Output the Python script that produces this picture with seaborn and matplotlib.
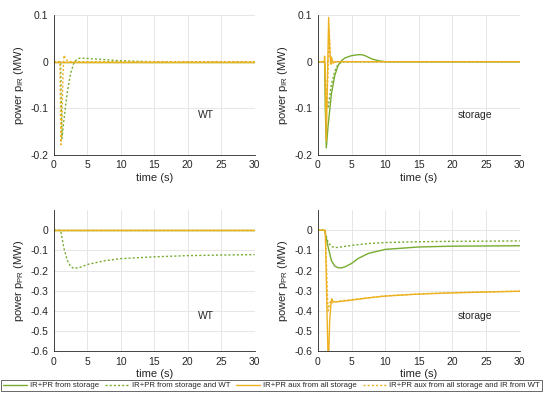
import numpy as np
import pandas as pd
import matplotlib
matplotlib.use("Agg")
import matplotlib.pyplot as plt
import seaborn as sns
from matplotlib.lines import Line2D

sns.set_theme(style="whitegrid")
plt.rcParams['font.family'] = ['Liberation Sans', 'DejaVu Sans']

GREEN = '#77AC30'
ORANGE = '#EDB120'

series_names = ["IR+PR from storage", "IR+PR from storage and WT",
                "IR+PR aux from all storage", "IR+PR aux from all storage and IR from WT"]

# ---- top-left: IR, WT ----
tl_gs_t = [0, 30]
tl_gs_v = [0, 0]
tl_gd_t = [0, 1.0, 1.2, 1.5, 2.0, 2.5, 3.0, 3.5, 4.0, 5, 6, 8, 10, 12, 15, 30]
tl_gd_v = [0, 0, -0.165, -0.125, -0.065, -0.025, -0.002, 0.006, 0.008, 0.007, 0.006, 0.004, 0.002, 0.001, 0, 0]
tl_os_t = [0, 30]
tl_os_v = [0, 0]
tl_od_t = [0, 0.9, 1.05, 1.2, 1.35, 1.5, 1.7, 2.0, 2.4, 30]
tl_od_v = [0, 0, -0.178, -0.12, -0.03, 0.014, 0.008, 0.002, 0, 0]

# ---- top-right: IR, storage ----
tr_gs_t = [0, 1.0, 1.1, 1.25, 1.5, 2, 2.5, 3, 3.5, 4, 5, 6, 6.5, 7, 8, 9, 10, 30]
tr_gs_v = [0, 0, -0.1, -0.185, -0.14, -0.07, -0.03, -0.008, 0.002, 0.008, 0.013, 0.015, 0.015, 0.013, 0.006, 0.002, 0, 0]
tr_gd_t = [0, 1.0, 1.2, 1.5, 2, 2.5, 3, 3.5, 4, 30]
tr_gd_v = [0, 0, -0.07, -0.1, -0.05, -0.02, -0.006, -0.001, 0, 0]
tr_os_t = [0, 0.95, 1.0, 1.1, 1.25, 1.4, 1.6, 1.75, 1.9, 2.0, 2.15, 2.3, 2.6, 30]
tr_os_v = [0, 0, 0.012, -0.05, -0.17, -0.05, 0.095, 0.03, -0.005, 0.01, 0.003, -0.003, 0, 0]
tr_od_t = [0, 1.0, 1.1, 1.3, 1.5, 1.7, 1.85, 2.0, 2.2, 30]
tr_od_v = [0, 0, -0.03, -0.1, -0.02, 0.065, 0.01, -0.005, 0, 0]

# ---- bottom-left: PR, WT ----
bl_gs_t = [0, 30]
bl_gs_v = [0, 0]
bl_gd_t = [0, 1.0, 1.5, 2.0, 2.5, 3.0, 4, 5, 7.5, 10, 15, 20, 25, 30]
bl_gd_v = [0, 0, -0.09, -0.15, -0.18, -0.19, -0.183, -0.17, -0.152, -0.141, -0.132, -0.126, -0.123, -0.121]
bl_os_t = [0, 30]
bl_os_v = [0, 0]
bl_od_t = [0, 30]
bl_od_v = [0, 0]

# ---- bottom-right: PR, storage ----
br_gs_t = [0, 1.0, 1.5, 2.0, 2.5, 3.0, 3.5, 4, 5, 6, 7.5, 10, 15, 20, 30]
br_gs_v = [0, 0, -0.08, -0.15, -0.178, -0.186, -0.187, -0.182, -0.165, -0.14, -0.115, -0.095, -0.083, -0.079, -0.077]
br_gd_t = [0, 1.0, 1.5, 2.0, 2.5, 3, 4, 5, 7.5, 10, 15, 20, 30]
br_gd_v = [0, 0, -0.06, -0.08, -0.086, -0.085, -0.08, -0.075, -0.066, -0.061, -0.057, -0.055, -0.053]
br_os_t = [0, 1.1, 1.35, 1.55, 1.75, 1.95, 2.05, 2.3, 3, 5, 7.5, 10, 15, 20, 30]
br_os_v = [0, 0, -0.4, -0.7, -0.45, -0.36, -0.34, -0.355, -0.355, -0.347, -0.336, -0.327, -0.317, -0.311, -0.303]
br_od_t = [0, 1.1, 1.3, 1.5, 1.7, 1.9, 2.1, 2.5, 3, 5, 7.5, 10, 15, 20, 30]
br_od_v = [0, 0, -0.2, -0.4, -0.37, -0.35, -0.36, -0.357, -0.352, -0.345, -0.335, -0.326, -0.316, -0.31, -0.302]

panels = [
    dict(pos=[0.098, 0.611, 0.365, 0.351], series=[(tl_gs_t, tl_gs_v), (tl_gd_t, tl_gd_v), (tl_os_t, tl_os_v), (tl_od_t, tl_od_v)],
         ylim=(-0.2, 0.1), yticks=[-0.2, -0.1, 0, 0.1], ylabels=['-0.2', '-0.1', '0', '0.1'],
         ylabel='power p$_{\\mathregular{IR}}$ (MW)', label='WT', lab_xy=(21.5, -0.12)),
    dict(pos=[0.578, 0.611, 0.367, 0.351], series=[(tr_gs_t, tr_gs_v), (tr_gd_t, tr_gd_v), (tr_os_t, tr_os_v), (tr_od_t, tr_od_v)],
         ylim=(-0.2, 0.1), yticks=[-0.2, -0.1, 0, 0.1], ylabels=['-0.2', '-0.1', '0', '0.1'],
         ylabel='power p$_{\\mathregular{IR}}$ (MW)', label='storage', lab_xy=(20.8, -0.12)),
    dict(pos=[0.098, 0.118, 0.365, 0.354], series=[(bl_gs_t, bl_gs_v), (bl_gd_t, bl_gd_v), (bl_os_t, bl_os_v), (bl_od_t, bl_od_v)],
         ylim=(-0.6, 0.1), yticks=[-0.6, -0.5, -0.4, -0.3, -0.2, -0.1, 0], ylabels=['-0.6', '-0.5', '-0.4', '-0.3', '-0.2', '-0.1', '0'],
         ylabel='power p$_{\\mathregular{PR}}$ (MW)', label='WT', lab_xy=(21.5, -0.44)),
    dict(pos=[0.578, 0.118, 0.367, 0.354], series=[(br_gs_t, br_gs_v), (br_gd_t, br_gd_v), (br_os_t, br_os_v), (br_od_t, br_od_v)],
         ylim=(-0.6, 0.1), yticks=[-0.6, -0.5, -0.4, -0.3, -0.2, -0.1, 0], ylabels=['-0.6', '-0.5', '-0.4', '-0.3', '-0.2', '-0.1', '0'],
         ylabel='power p$_{\\mathregular{PR}}$ (MW)', label='storage', lab_xy=(20.8, -0.44)),
]

styles = [(GREEN, '-'), (GREEN, (0, (1.5, 1.5))), (ORANGE, '-'), (ORANGE, (0, (1.5, 1.5)))]

fig = plt.figure(figsize=(5.5, 3.98), dpi=100)
for p in panels:
    ax = fig.add_axes(p['pos'])
    for (t, v), (c, ls) in zip(p['series'], styles):
        df = pd.DataFrame({'t': t, 'v': v})
        sns.lineplot(data=df, x='t', y='v', ax=ax, color=c, linestyle=ls, linewidth=1.0, estimator=None, sort=False)
    ax.set_xlim(0, 30)
    ax.set_ylim(*p['ylim'])
    ax.set_xticks([0, 5, 10, 15, 20, 25, 30])
    ax.set_xticklabels(['0', '5', '10', '15', '20', '25', '30'])
    ax.set_yticks(p['yticks'])
    ax.set_yticklabels(p['ylabels'])
    ax.set_xlabel('time (s)', fontsize=8, color='#262626', labelpad=2)
    ax.set_ylabel(p['ylabel'], fontsize=8, color='#262626', labelpad=3)
    ax.tick_params(labelsize=7.5, colors='#262626', direction='in', length=2.5, pad=4)
    ax.set_facecolor('white')
    ax.grid(True, color='#e6e6e6', linewidth=0.7)
    for s in ['top', 'right']:
        ax.spines[s].set_visible(False)
    for s in ['left', 'bottom']:
        ax.spines[s].set_color('#262626')
        ax.spines[s].set_linewidth(0.6)
    ax.text(p['lab_xy'][0], p['lab_xy'][1], p['label'], fontsize=7.5, color='#262626')

handles = [Line2D([], [], color=c, linestyle=ls, linewidth=1.0) for c, ls in styles]
leg = fig.legend(handles, series_names, loc='center', ncol=4, bbox_to_anchor=(0.494, 0.031),
                 fontsize=5.6, frameon=True, fancybox=False, handlelength=3.0, handletextpad=0.4,
                 columnspacing=0.8, borderpad=0.25)
leg.get_frame().set_edgecolor('#262626')
leg.get_frame().set_linewidth(0.6)

fig.savefig('out.png', dpi=100)
